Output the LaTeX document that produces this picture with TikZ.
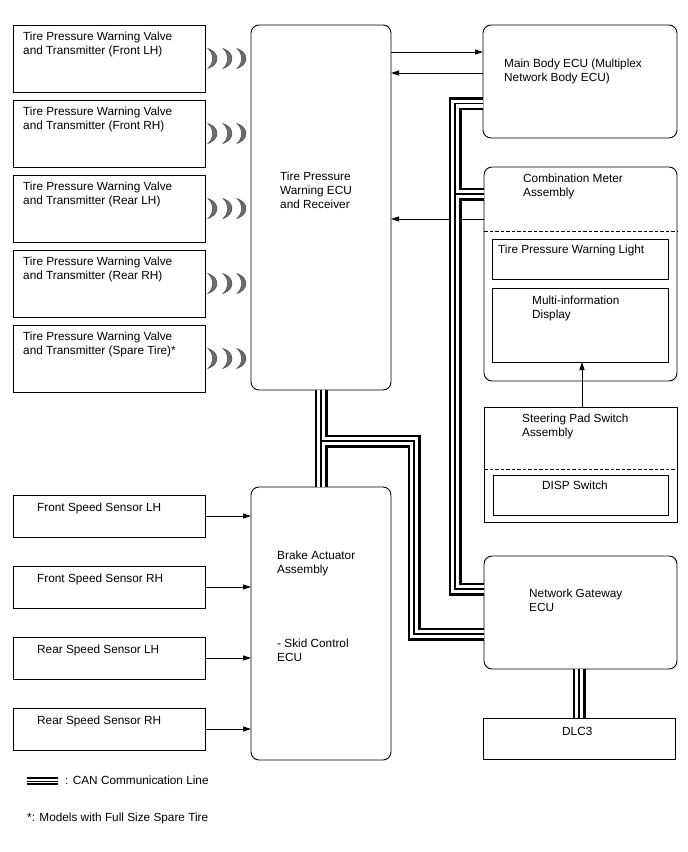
\documentclass[tikz,border=0pt]{standalone}
\usepackage{fontspec}
\setmainfont{Liberation Sans}
\usetikzlibrary{arrows.meta}
\newcommand\fnt{\fontsize{11.8}{14}\selectfont}
\newcommand\mlines[1]{\begin{tabular}[t]{@{}l@{}}#1\end{tabular}}
\begin{document}
\begin{tikzpicture}[x=1pt,y=-1pt,
 box/.style={draw, line width=0.9pt, inner sep=0pt, outer sep=0pt, anchor=north west},
 rbox/.style={box, rounded corners=8pt},
 lbl/.style={anchor=base west, inner sep=0pt, font=\fnt},
 arr/.style={line width=0.9pt, -{Triangle[length=8pt,width=5pt]}},
 dsh/.style={line width=0.9pt, dash pattern=on 3.5pt off 2pt},
 radiowave/.pic={\filldraw[fill=gray!85!black, draw=black!75, line width=0.4pt]
   (-5,-10) .. controls (7,-6) and (7,6) .. (-5,10) .. controls (1,5) and (1,-5) .. (-5,-10) -- cycle;}
]
\useasboundingbox (0,0) rectangle (688,852);

% transmitters
\foreach \i/\t/\txt in {1/25/{Front LH)}, 2/100/{Front RH)}, 3/175/{Rear LH)}, 4/250/{Rear RH)}, 5/325/{Spare Tire)*}}{
  \node[box, minimum width=192pt, minimum height=67pt] (t\i) at (13,\t) {};
  \node[lbl] (tt\i) at (23,\t+15) {\mlines{Tire Pressure Warning Valve\\and Transmitter (\txt}};
  \pic at (213,\t+33.5) {radiowave};
  \pic at (228,\t+33.5) {radiowave};
  \pic at (242,\t+33.5) {radiowave};
}

% speed sensors
\foreach \i/\t/\txt in {1/495/Front Speed Sensor LH, 2/566/Front Speed Sensor RH, 3/637/Rear Speed Sensor LH, 4/708/Rear Speed Sensor RH}{
  \node[box, minimum width=192pt, minimum height=42pt] (s\i) at (13,\t) {};
  \node[lbl] (st\i) at (37,\t+16) {\txt};
}

% main blocks
\node[rbox, minimum width=140pt, minimum height=365pt] (ecu) at (251,25) {};
\node[lbl] (ecut) at (280,180) {\mlines{Tire Pressure\\Warning ECU\\and Receiver}};

\node[rbox, minimum width=140pt, minimum height=273pt] (brake) at (251,487) {};
\node[lbl] (braket) at (277,559) {\mlines{Brake Actuator\\Assembly}};
\node[lbl] (brakes) at (277,647) {\mlines{- Skid Control\\ECU}};

\node[rbox, minimum width=194pt, minimum height=113pt] (mainbody) at (483,25) {};
\node[lbl] (mainbodyt) at (504,67) {\mlines{Main Body ECU (Multiplex\\Network Body ECU)}};

\node[rbox, minimum width=193pt, minimum height=214pt] (meter) at (484,167) {};
\node[lbl] (metert) at (523,182) {\mlines{Combination Meter\\Assembly}};
\draw[dsh] (meter.west |- 0,231) -- (meter.east |- 0,231);
\node[box, minimum width=176pt, minimum height=40pt] (tpwl) at (492,239) {};
\node[lbl] (tpwlt) at (498,253) {Tire Pressure Warning Light};
\node[box, minimum width=176pt, minimum height=74pt] (mid) at (492,288) {};
\node[lbl] (midt) at (532,304) {\mlines{Multi-information\\Display}};

\node[box, minimum width=193pt, minimum height=115pt] (steer) at (484,407) {};
\node[lbl] (steert) at (522,422) {\mlines{Steering Pad Switch\\Assembly}};
\draw[dsh] (steer.west |- 0,469) -- (steer.east |- 0,469);
\node[box, minimum width=175pt, minimum height=40pt] (disp) at (493,475) {};
\node[lbl] (dispt) at (542,489) {DISP Switch};

\node[rbox, minimum width=193pt, minimum height=113pt] (gateway) at (484,556) {};
\node[lbl] (gatewayt) at (529,597) {\mlines{Network Gateway\\ECU}};

\node[box, minimum width=192pt, minimum height=41pt] (dlc) at (483,718) {};
\node[lbl] (dlct) at (562,735) {DLC3};

% plain arrows
\coordinate (ya) at (0,52);
\coordinate (yb) at (0,73);
\coordinate (yc) at (0,219);
\coordinate (xs) at (582,0);
\draw[arr] (ecu.east |- ya) -- (mainbody.west |- ya);
\draw[arr] (mainbody.west |- yb) -- (ecu.east |- yb);
\draw[arr] (meter.west |- yc) -- (ecu.east |- yc);
\draw[arr] (steer.north -| xs) -- (mid.south -| xs);
\foreach \i in {1,2,3,4}{
  \draw[arr] (s\i.east) -- (brake.west |- s\i.east);
}

% CAN lines
\coordinate (ja) at (455,103.5);
\coordinate (jb) at (455,194);
\coordinate (jc) at (455,589);
\coordinate (jd) at (321,441);
\coordinate (je) at (414,441);
\coordinate (jf) at (414,634);
\coordinate (jg) at (579,690);
\foreach \lw/\lc in {13/black, 8/white, 1.2/black}{
  \draw[line width=\lw pt, \lc]
    (mainbody.west |- ja) -- (ja) -- (jc) -- (gateway.west |- jc)
    (jb) -- (meter.west |- jb)
    (ecu.south -| jd) -- (brake.north -| jd)
    (jd) -- (je) -- (jf) -- (gateway.west |- jf)
    (gateway.south -| jg) -- (dlc.north -| jg);
}

% legend
\coordinate (lg1) at (27,781);
\coordinate (lg2) at (58,781);
\foreach \lw/\lc in {8/black, 4.4/white, 0.9/black}{
  \draw[line width=\lw pt, \lc] (lg1) -- (lg2);
}
\node[lbl] (lgt) at (65,784) {: CAN Communication Line};
\node[lbl] (note) at (27,821) {*: Models with Full Size Spare Tire};
\end{tikzpicture}
\end{document}
